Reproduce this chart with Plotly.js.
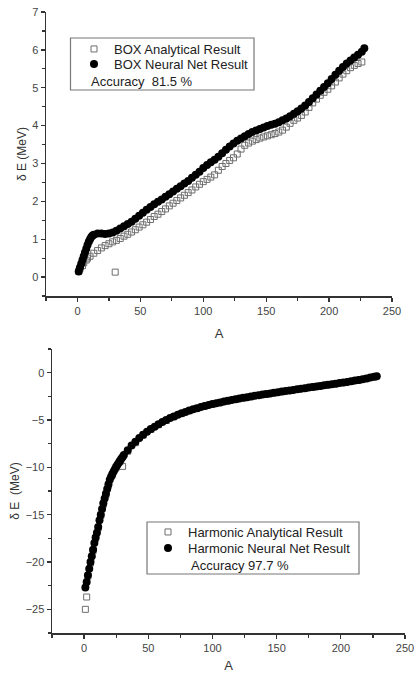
<!DOCTYPE html>
<html>
<head>
<meta charset="utf-8">
<script src="https://cdn.plot.ly/plotly-3.0.1.min.js"></script>
<style>html,body{margin:0;padding:0;background:#fff;}#chart{width:414px;height:673px;}</style>
</head>
<body>
<div id="chart"></div>
<script>
// ---- Top panel: BOX ----
const boxNetA = [1,2,3,4,5,6,7,8,9,10,11,12,13,16,19,22,25,28,31,34,37,40,43,46,49,52,55,58,61,64,67,70,73,76,79,82,85,88,91,94,97,100,103,106,109,112,115,118,121,124,127,130,133,136,139,142,145,148,151,154,157,160,163,166,169,172,175,178,181,184,187,190,193,196,199,202,205,208,211,214,217,220,223,226,228];
const boxNetE = [0.15,0.25,0.35,0.45,0.55,0.65,0.75,0.85,0.93,1.0,1.06,1.10,1.12,1.15,1.15,1.14,1.15,1.18,1.22,1.28,1.34,1.40,1.46,1.54,1.62,1.70,1.78,1.85,1.92,1.99,2.05,2.12,2.19,2.26,2.33,2.40,2.47,2.54,2.62,2.70,2.78,2.88,2.96,3.03,3.10,3.18,3.27,3.36,3.45,3.53,3.60,3.66,3.72,3.78,3.83,3.87,3.91,3.95,3.99,4.02,4.05,4.09,4.14,4.19,4.25,4.31,4.38,4.45,4.53,4.62,4.72,4.82,4.92,5.02,5.12,5.23,5.34,5.45,5.55,5.64,5.72,5.80,5.87,5.95,6.04];
const boxAnaA = [1,2,4,5,7,8,10,13,16,19,22,25,28,30,31,34,37,40,43,46,49,52,55,58,61,64,67,70,73,76,79,82,85,88,91,94,97,100,103,106,109,112,115,118,121,124,127,130,133,136,139,142,145,148,151,154,157,160,163,166,169,172,175,178,181,184,187,190,193,196,199,202,205,208,211,214,217,220,223,226];
const boxAnaE = [0.15,0.22,0.30,0.38,0.45,0.50,0.55,0.63,0.70,0.77,0.83,0.88,0.93,0.13,0.97,1.02,1.08,1.13,1.19,1.25,1.32,1.38,1.45,1.52,1.60,1.66,1.73,1.80,1.88,1.95,2.02,2.09,2.16,2.23,2.30,2.38,2.45,2.52,2.58,2.64,2.70,2.82,2.92,3.00,3.08,3.15,3.25,3.38,3.48,3.54,3.59,3.63,3.67,3.70,3.73,3.76,3.79,3.83,3.88,3.96,4.06,4.14,4.20,4.27,4.36,4.48,4.60,4.70,4.80,4.88,4.96,5.05,5.15,5.26,5.36,5.45,5.53,5.59,5.64,5.68];

// ---- Bottom panel: Harmonic ----
const harmNetA = [1,2,3,4,5,6,7,8,9,10,11,12,13,14,15,16,17,18,19,20,21,22,23,24,25,26,27,28,29,30,31,34,37,40,43,46,49,52,55,58,61,64,67,70,73,76,79,82,85,88,91,94,97,100,103,106,109,112,115,118,121,124,127,130,133,136,139,142,145,148,151,154,157,160,163,166,169,172,175,178,181,184,187,190,193,196,199,202,205,208,211,214,217,220,223,226,228];
const harmNetE = [-22.7,-22.1,-21.4,-20.7,-20.0,-19.4,-18.7,-18.0,-17.4,-16.9,-16.3,-15.6,-15.0,-14.4,-13.8,-13.3,-12.8,-12.3,-11.8,-11.3,-11.0,-10.7,-10.45,-10.2,-9.95,-9.73,-9.52,-9.3,-9.1,-8.9,-8.7,-8.2,-7.7,-7.3,-6.9,-6.55,-6.25,-5.95,-5.7,-5.45,-5.2,-5.0,-4.8,-4.62,-4.45,-4.3,-4.15,-4.0,-3.87,-3.75,-3.63,-3.52,-3.42,-3.32,-3.23,-3.14,-3.05,-2.97,-2.89,-2.81,-2.73,-2.66,-2.59,-2.52,-2.45,-2.38,-2.31,-2.25,-2.19,-2.12,-2.06,-2.0,-1.94,-1.88,-1.82,-1.76,-1.70,-1.64,-1.58,-1.52,-1.46,-1.40,-1.34,-1.28,-1.22,-1.16,-1.10,-1.04,-0.98,-0.91,-0.84,-0.77,-0.69,-0.61,-0.52,-0.43,-0.37];
const harmAnaA = [1,2,3,5,7,9,11,13,15,17,19,22,25,28,30,34,40,46,52,58,64,70,76,82,88,94,100,106,112,118,124,130,136,142,148,154,160,166,172,178,184,190,196,202,208,214,220,226];
const harmAnaE = [-25.0,-23.7,-21.5,-20.1,-18.8,-17.5,-16.4,-15.1,-13.9,-12.9,-11.9,-10.8,-10.0,-9.4,-9.9,-8.3,-7.4,-6.6,-6.0,-5.5,-5.05,-4.65,-4.32,-4.02,-3.77,-3.54,-3.34,-3.16,-2.99,-2.83,-2.68,-2.54,-2.40,-2.27,-2.14,-2.02,-1.90,-1.78,-1.66,-1.54,-1.42,-1.30,-1.18,-1.06,-0.93,-0.79,-0.63,-0.45];

const xTicks = [0,50,100,150,200,250];
const topYTicks = [0,1,2,3,4,5,6,7];
const botYTicks = [-25,-20,-15,-10,-5,0];

const topLegendNames = ['BOX Analytical Result','BOX Neural Net Result'];
const botLegendNames = ['Harmonic Analytical Result','Harmonic Neural Net Result'];
const topAccuracy = 'Accuracy  81.5 %';
const botAccuracy = 'Accuracy 97.7 %';
const xTitle = 'A';
const yTitleTop = 'δ E (MeV)';
const yTitleBot = 'δ E\u00a0\u00a0(MeV)';

const W = 414, H = 673;
const px = v => v / W;
const py = v => 1 - v / H;

const FONT = 'Liberation Sans, Arial, sans-serif';
const anaStyle = {symbol:'square-open', size:6, color:'#6e6e6e', line:{color:'#6e6e6e', width:1}};
const netStyle = {symbol:'circle', size:8, color:'#000'};

const traces = [
  {x:boxAnaA, y:boxAnaE, type:'scatter', mode:'markers', name:topLegendNames[0], marker:anaStyle, xaxis:'x', yaxis:'y', legend:'legend'},
  {x:boxNetA, y:boxNetE, type:'scatter', mode:'markers', name:topLegendNames[1], marker:netStyle, xaxis:'x', yaxis:'y', legend:'legend2'},
  {x:harmAnaA, y:harmAnaE, type:'scatter', mode:'markers', name:botLegendNames[0], marker:anaStyle, xaxis:'x2', yaxis:'y2', legend:'legend3'},
  {x:harmNetA, y:harmNetE, type:'scatter', mode:'markers', name:botLegendNames[1], marker:netStyle, xaxis:'x2', yaxis:'y2', legend:'legend4'}
];

function minorTicks(d){
  return {ticks:'outside', ticklen:3, tickwidth:1.2, tickcolor:'#333', showgrid:false, dtick:d, tick0:0};
}
function axisBase(){
  return {
    showline:true, linecolor:'#333', linewidth:1.5, showgrid:false, zeroline:false,
    ticks:'outside', ticklen:4, tickwidth:1.3, tickcolor:'#333',
    tickfont:{family:FONT, size:11, color:'#444'},
    ticklabeloverflow:'allow',
    fixedrange:true
  };
}
function legendAt(x, y){
  return {x:x, y:y, xanchor:'left', yanchor:'middle', bgcolor:'rgba(0,0,0,0)', borderwidth:0,
          font:{family:FONT, size:13, color:'#222'}, itemwidth:30};
}

const layout = {
  width:W, height:H, paper_bgcolor:'#fff', plot_bgcolor:'#fff',
  margin:{l:0, r:0, t:0, b:0},
  font:{family:FONT, color:'#333'},
  showlegend:true,
  xaxis:Object.assign(axisBase(), {domain:[px(46), px(392)], range:[-25,250], anchor:'y',
        tickvals:xTicks, minor:minorTicks(25),
        title:{text:xTitle, font:{family:FONT, size:13, color:'#333'}, standoff:13}}),
  yaxis:Object.assign(axisBase(), {domain:[py(296), py(12)], range:[-0.5,7], anchor:'x',
        tickvals:topYTicks, minor:minorTicks(0.5),
        title:{text:yTitleTop, font:{family:FONT, size:12, color:'#333'}, standoff:3}}),
  xaxis2:Object.assign(axisBase(), {domain:[px(52), px(405)], range:[-25,250], anchor:'y2',
        tickvals:xTicks, minor:minorTicks(25),
        title:{text:xTitle, font:{family:FONT, size:13, color:'#333'}, standoff:13}}),
  yaxis2:Object.assign(axisBase(), {domain:[py(633), py(349)], range:[-27.5,2.5], anchor:'x2',
        tickvals:botYTicks, minor:minorTicks(2.5),
        title:{text:yTitleBot, font:{family:FONT, size:12, color:'#333'}, standoff:3}}),
  legend:legendAt(px(74), py(49)),
  legend2:legendAt(px(74), py(64)),
  legend3:legendAt(px(148), py(532)),
  legend4:legendAt(px(148), py(548)),
  shapes:[
    {type:'rect', xref:'paper', yref:'paper', x0:px(70.5), x1:px(254), y0:py(90), y1:py(38), line:{color:'#777', width:1.2}, fillcolor:'rgba(0,0,0,0)'},
    {type:'rect', xref:'paper', yref:'paper', x0:px(147), x1:px(359), y0:py(574), y1:py(522), line:{color:'#777', width:1.2}, fillcolor:'rgba(0,0,0,0)'}
  ],
  annotations:[
    {text:topAccuracy, xref:'paper', yref:'paper', x:px(89), y:py(81), xanchor:'left', yanchor:'middle', showarrow:false, font:{family:FONT, size:13, color:'#222'}},
    {text:botAccuracy, xref:'paper', yref:'paper', x:px(189), y:py(565), xanchor:'left', yanchor:'middle', showarrow:false, font:{family:FONT, size:13, color:'#222'}}
  ]
};

Plotly.newPlot('chart', traces, layout, {staticPlot:true, displayModeBar:false});
</script>
</body>
</html>
